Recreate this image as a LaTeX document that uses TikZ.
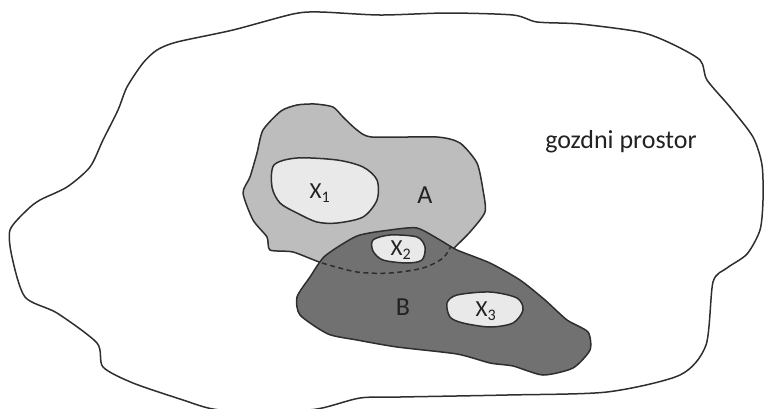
\documentclass[tikz,border=0pt]{standalone}
\usepackage{fontspec}
\setmainfont{Carlito}
\definecolor{outl}{HTML}{2E2E2E}
\definecolor{afill}{HTML}{BDBDBD}
\definecolor{bfill}{HTML}{717171}
\definecolor{xfill}{HTML}{E9E9E9}
\definecolor{txt}{HTML}{222222}
\begin{document}
\begin{tikzpicture}[x=1pt,y=-1pt,
  region/.style={draw=outl,line width=1.5pt,line join=round},
  lbl/.style={inner sep=0pt,text=txt,font=\fontsize{26}{30}\selectfont},
  slbl/.style={inner sep=0pt,text=txt,font=\fontsize{23}{27}\selectfont}]
\useasboundingbox (0,0) rectangle (765,408);
% outer forest space
\draw[region,line width=1.5pt] plot[smooth cycle,tension=0.45] coordinates {
 (293,14) (320,12) (380,15) (447,13) (513,15) (537,22) (580,24) (640,32)
 (670,43) (700,60) (707,80) (730,107) (753,137) (762,165) (763,200) (760,230)
 (747,254) (727,268) (713,282) (706,345) (680,375) (607,392) (507,395) (400,397)
 (360,398) (317,409) (260,413) (213,409) (183,400) (133,383) (103,367) (97,343)
 (57,313) (25,297) (12,257) (10,230) (27,210) (40,200) (67,187) (90,167)
 (103,140) (118,110) (127,87) (143,63) (157,50) (177,42) (233,30)};
% region A
\draw[region,fill=afill] plot[smooth cycle,tension=0.4] coordinates {
 (297,105) (315,104) (333,107) (343,117) (357,130) (372,137) (437,137) (460,143)
 (477,163) (483,190) (485,212) (470,232) (452,250) (443,259) (423,268) (390,273)
 (357,272) (322,263) (293,252) (270,250) (267,237) (253,220) (243,193) (250,177)
 (257,153) (263,130) (281,111)};
% region B
\draw[region,fill=bfill] plot[smooth cycle,tension=0.4] coordinates {
 (390,230) (417,228) (440,240) (457,250) (490,263) (520,280) (545,300) (567,320)
 (588,332) (590,350) (573,368) (543,375) (513,366) (490,363) (457,354) (397,347)
 (357,340) (328,334) (300,315) (297,297) (310,277) (325,256) (357,236)};
% hidden boundary of A inside B
\draw[outl,line width=1.5pt,dash pattern=on 5pt off 3.5pt] plot[smooth,tension=0.5] coordinates {
 (322,263) (357,272) (390,273) (423,268) (443,258) (451,246)};
% cores
\draw[region,fill=xfill] plot[smooth cycle,tension=0.5] coordinates {
 (272,187) (274,165) (297,158) (337,160) (363,167) (377,180) (377,200) (363,217)
 (337,223) (317,222) (297,213) (280,203)};
\draw[region,fill=xfill] plot[smooth cycle,tension=0.5] coordinates {
 (373,240) (390,235) (417,237) (425,247) (422,260) (407,263) (383,260) (373,251)};
\draw[region,fill=xfill] plot[smooth cycle,tension=0.5] coordinates {
 (447,303) (457,295) (490,292) (517,298) (523,310) (513,323) (490,327) (463,323) (450,317)};
% labels
\node[slbl] (x1) at (320,193) {X\textsubscript{1}};
\node[lbl] (la) at (425,195) {A};
\node[slbl] (x2) at (401,250) {X\textsubscript{2}};
\node[lbl] (lb) at (403,307) {B};
\node[slbl] (x3) at (486,311) {X\textsubscript{3}};
\node[lbl] (gp) at (621,142) {gozdni prostor};
\end{tikzpicture}
\end{document}
